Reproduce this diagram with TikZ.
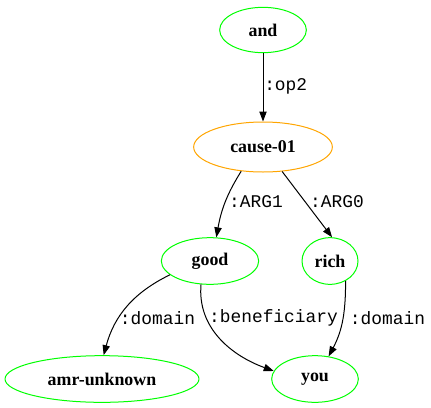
\documentclass[tikz,border=0pt]{standalone}
\usepackage{fontspec}
\setmainfont{Liberation Serif}
\newfontfamily\lblfont{Liberation Mono}
\usepackage{tikz}
\usetikzlibrary{arrows.meta, shapes.geometric}
\usepackage{xcolor}
\definecolor{amrgreen}{RGB}{0,255,0}
\definecolor{amrorange}{RGB}{255,165,0}

\begin{document}
\begin{tikzpicture}[
        x=0.75pt, y=-0.75pt,
        line join=bevel,
        concept/.style={shape=ellipse, draw=amrgreen, line width=0.75pt, inner sep=0pt,
                        font=\bfseries\fontsize{13.4}{16}\selectfont},
        predicate/.style={concept, draw=amrorange},
        role/.style={inner sep=0pt, font=\lblfont\fontsize{13.4}{16}\selectfont},
        edge/.style={-{Triangle[length=7.5pt, width=5.5pt]}, line width=0.75pt}
        ]
        \useasboundingbox (0,0) rectangle (431,407);

        %% Nodes
        \node[concept, minimum width=65pt, minimum height=34pt] (and) at (263,30) {and};
        \node[predicate, minimum width=104pt, minimum height=37.5pt] (cause) at (263,147) {cause-01};
        \node[concept, minimum width=73pt, minimum height=35pt] (good) at (210,261) {good};
        \node[concept, minimum width=42pt, minimum height=35pt] (rich) at (330,261) {rich};
        \node[concept, minimum width=145.5pt, minimum height=35pt] (unknown) at (102,379) {amr-unknown};
        \node[concept, minimum width=65pt, minimum height=35pt] (you) at (315,379) {you};

        %% Edges
        \draw[edge] (and) -- (cause);
        \draw[edge] (cause.228) to[out=-122, in=80] (good.75);
        \draw[edge] (cause.-52) -- (rich.85);
        \draw[edge] (good.199) to[out=-154, in=75] (unknown.86);
        \draw[edge] (good.-111) to[out=-95, in=160] (you.169);
        \draw[edge] (rich.-52) to[out=-90, in=62] (you.59);

        %% Roles
        \node[role, anchor=west] (op2) at (264,86) {:op2};
        \node[role] (arg1) at (256,202) {:ARG1};
        \node[role] (arg0) at (337,202) {:ARG0};
        \node[role] (domleft) at (157.5,318) {:domain};
        \node[role] (benef) at (273.5,318) {:beneficiary};
        \node[role] (domright) at (387.5,318) {:domain};
\end{tikzpicture}
\end{document}
